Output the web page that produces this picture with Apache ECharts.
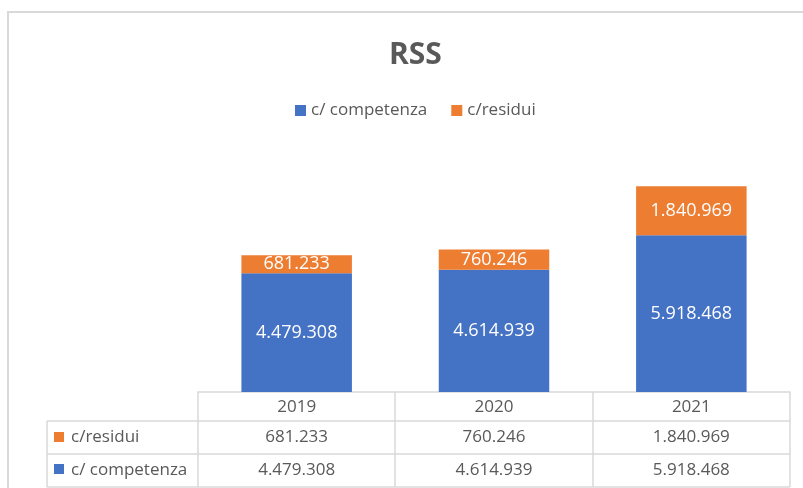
<!DOCTYPE html>
<html>
<head>
<meta charset="utf-8">
<script src="https://cdn.jsdelivr.net/npm/echarts@6/dist/echarts.min.js"></script>
<style>
  html, body { margin: 0; padding: 0; background: #fff; }
  #chart { width: 803px; height: 488px; }
</style>
</head>
<body>
<div id="chart"></div>
<script>
// data
var years = ['2019', '2020', '2021'];
var competenza = [4479308, 4614939, 5918468];
var residui = [681233, 760246, 1840969];
var seriesNames = ['c/ competenza', 'c/residui'];

// italian style thousands: 4.479.308
function fmt(n) {
  return String(n).replace(/\B(?=(\d{3})+(?!\d))/g, '.');
}

var FONT = 'Open Sans';
var GREY = '#595959';
var LINE = '#d9d9d9';
var BLUE = '#4472C4';
var ORANGE = '#ED7D31';

var myChart = echarts.init(document.getElementById('chart'));

// table grid lines (styling only)
var colX = [198, 395, 593, 790];
var tableLines = [];
colX.forEach(function (x) {
  tableLines.push({ type: 'line', shape: { x1: x, y1: 392, x2: x, y2: 487 }, style: { stroke: LINE, lineWidth: 1.5 } });
});
tableLines.push({ type: 'line', shape: { x1: 47, y1: 421, x2: 47, y2: 487 }, style: { stroke: LINE, lineWidth: 1.5 } });
[421, 454, 487].forEach(function (y) {
  tableLines.push({ type: 'line', shape: { x1: 47, y1: y, x2: 790, y2: y }, style: { stroke: LINE, lineWidth: 1.5 } });
});

var option = {
  animation: false,
  textStyle: { fontFamily: FONT },
  title: {
    text: 'RSS',
    left: 384,
    top: 35,
    textStyle: { fontSize: 30, fontWeight: 'bold', color: GREY, fontFamily: FONT }
  },
  legend: {
    top: 97,
    left: 290,
    itemWidth: 11,
    itemHeight: 11,
    itemGap: 24,
    icon: 'rect',
    textStyle: { fontSize: 17, color: GREY, fontFamily: FONT },
    data: seriesNames
  },
  grid: { left: 198, right: 13, top: 180, bottom: 96 },
  xAxis: [
    {
      type: 'category',
      data: years,
      axisLine: { lineStyle: { color: LINE, width: 1.5 } },
      axisTick: { show: false },
      axisLabel: { color: GREY, fontSize: 17, margin: 7 }
    },
    {
      type: 'category',
      data: years,
      position: 'bottom',
      offset: 30,
      axisLine: { show: false },
      axisTick: { show: false },
      axisLabel: {
        color: GREY, fontSize: 17, margin: 7,
        formatter: function (v, i) { return fmt(residui[i]); }
      }
    },
    {
      type: 'category',
      data: years,
      position: 'bottom',
      offset: 63,
      axisLine: { show: false },
      axisTick: { show: false },
      axisLabel: {
        color: GREY, fontSize: 17, margin: 7,
        formatter: function (v, i) { return fmt(competenza[i]); }
      }
    }
  ],
  yAxis: { type: 'value', min: 0, max: 8000000, show: false },
  series: [
    {
      name: seriesNames[0],
      type: 'bar',
      stack: 'tot',
      barWidth: '56%',
      data: competenza,
      itemStyle: { color: BLUE },
      label: {
        show: true, position: 'inside', color: '#fff', fontSize: 18,
        formatter: function (p) { return fmt(p.value); }
      }
    },
    {
      name: seriesNames[1],
      type: 'bar',
      stack: 'tot',
      barWidth: '56%',
      data: residui,
      itemStyle: { color: ORANGE },
      label: {
        show: true, position: 'inside', color: '#fff', fontSize: 18,
        formatter: function (p) { return fmt(p.value); }
      }
    }
  ],
  graphic: [
    { type: 'rect', shape: { x: 8, y: 12, width: 820, height: 500 }, style: { fill: 'none', stroke: LINE, lineWidth: 2 }, silent: true },
    { type: 'group', children: tableLines, silent: true },
    { type: 'rect', shape: { x: 54, y: 432, width: 10, height: 10 }, style: { fill: ORANGE } },
    { type: 'text', x: 71, y: 437, style: { text: seriesNames[1], fill: GREY, fontSize: 17, fontFamily: FONT, textVerticalAlign: 'middle' } },
    { type: 'rect', shape: { x: 54, y: 464, width: 10, height: 10 }, style: { fill: BLUE } },
    { type: 'text', x: 71, y: 470, style: { text: seriesNames[0], fill: GREY, fontSize: 17, fontFamily: FONT, textVerticalAlign: 'middle' } }
  ]
};

myChart.setOption(option);
</script>
</body>
</html>
